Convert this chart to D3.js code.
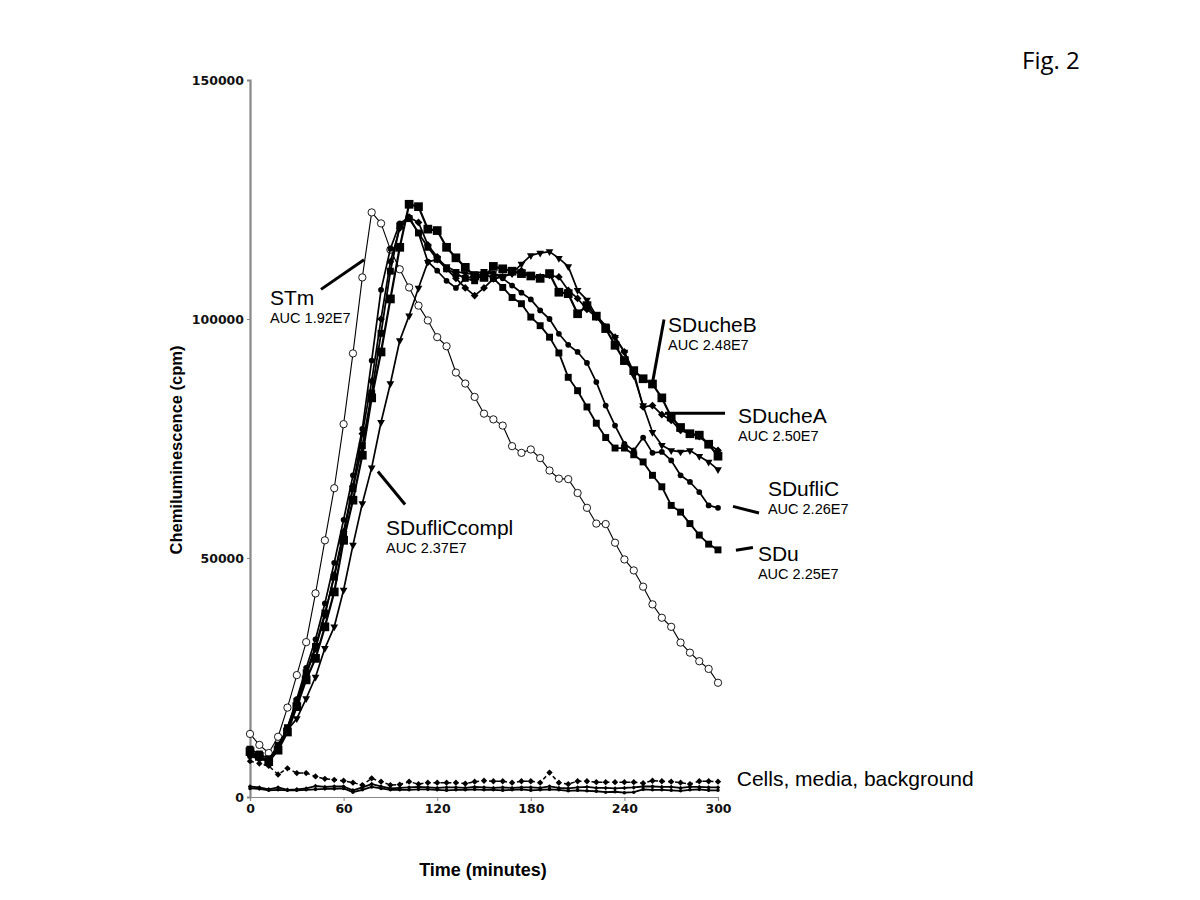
<!DOCTYPE html>
<html>
<head>
<meta charset="utf-8">
<script src="https://cdnjs.cloudflare.com/ajax/libs/d3/7.8.5/d3.min.js"></script>
<style>
  body { margin: 0; background: #fff; }
  svg { display: block; }
</style>
</head>
<body>
<svg width="1200" height="900"></svg>
<script>
// sampling times (minutes)
var times = [0, 6, 12, 18, 24, 30, 36, 42, 48, 54, 60, 66, 72, 78, 84, 90, 96, 102, 108, 114,
             120, 126, 132, 138, 144, 150, 156, 162, 168, 174, 180, 186, 192, 198, 204, 210, 216, 222, 228, 234,
             240, 246, 252, 258, 264, 270, 276, 282, 288, 294, 300];

var xTicks = [0, 60, 120, 180, 240, 300];
var yTicks = [0, 50000, 100000, 150000];

// chemiluminescence (cpm)
var stm = [13200, 10900, 9200, 12600, 18700, 25500, 32400, 42600, 53700, 64600, 78000, 92800, 108700, 122300, 120000, 114500, 110400, 106600, 102800, 99700,
           96200, 94300, 88800, 86500, 83700, 80200, 79000, 77700, 73400, 72000, 72700, 70900, 68300, 66600, 66500, 63600, 60500, 57200, 57100, 53200,
           49700, 47400, 44000, 40300, 37500, 35600, 32300, 30200, 28400, 26800, 23900];
var sducheB = [9500, 8500, 7400, 9800, 13600, 18900, 24500, 29000, 35600, 42900, 53700, 62100, 71500, 83500, 93100, 104200, 115000, 124000, 123500, 118800,
               118500, 115000, 112800, 110800, 109000, 108700, 111000, 110500, 110000, 109500, 109000, 108500, 109500, 105600, 105300, 101100, 102800, 100600, 98000, 94500,
               91300, 89200, 87500, 86400, 83500, 79500, 77300, 76000, 75700, 73800, 71300];
var sdu = [10000, 9000, 8000, 10500, 14500, 20000, 26000, 31500, 38500, 46000, 55000, 64500, 73500, 84500, 97000, 110000, 119500, 121000, 118000, 115000,
           112500, 110500, 109500, 108500, 108000, 109500, 108500, 106600, 104500, 103200, 100400, 98600, 96200, 92900, 87800, 85000, 81600, 78200, 75200, 73000,
           73000, 71600, 70100, 67300, 64900, 61000, 59600, 57200, 54800, 52900, 51700];
var sdufliC = [8500, 8000, 7500, 10000, 14500, 20500, 27000, 33000, 40500, 49000, 58000, 67300, 77000, 91300, 106100, 114700, 120000, 121300, 118000, 112000,
               110100, 108000, 106500, 108500, 109000, 109500, 109500, 108500, 107000, 105500, 104100, 101800, 100000, 96900, 94600, 93100, 90800, 86800, 81900, 77700,
               73900, 72500, 75200, 72000, 72200, 70400, 67300, 65900, 63800, 61000, 60500];
var sducheA = [9000, 8000, 7800, 10000, 14000, 19500, 25500, 31000, 38000, 46500, 55500, 65000, 76000, 87000, 100000, 112000, 119000, 121300, 120200, 115500,
               113000, 110500, 108500, 106500, 104900, 106500, 108400, 108800, 109500, 110100, 109100, 108800, 109100, 108800, 106000, 104300, 102000, 100400, 98300, 96200,
               93100, 88900, 81600, 81900, 80000, 78800, 76700, 76000, 75400, 73800, 72500];
var sdufliCcompl = [9000, 8500, 7400, 11100, 14000, 16400, 20600, 25100, 31100, 35600, 43300, 52700, 61400, 68900, 78400, 86500, 95500, 100700, 106500, 111900,
                    112500, 111000, 110000, 109500, 109500, 110000, 109500, 109000, 109500, 111500, 113300, 113800, 114100, 112700, 111000, 106000, 104000, 100700, 98600, 96200,
                    93100, 88200, 81900, 76300, 73600, 72500, 72200, 72500, 71300, 70100, 68500];
var cells = [7500, 7000, 6500, 4700, 6000, 5000, 5000, 4300, 3800, 3600, 3400, 3000, 2500, 3900, 3200, 2500, 2600, 3200, 2700, 3000,
             3000, 3000, 3000, 2800, 3200, 3400, 3300, 3300, 3000, 3300, 3300, 3000, 5100, 3000, 2700, 3300, 3300, 3100, 3100, 3100,
             3100, 3100, 2900, 3400, 3300, 3200, 3000, 2700, 3300, 3300, 3200];
var media = [2200, 2000, 1600, 2000, 1500, 1600, 1800, 2300, 2100, 2200, 2200, 1400, 2000, 2700, 2200, 1800, 1900, 2000, 2100, 2000,
             1900, 2000, 2000, 1900, 2100, 2000, 1900, 2000, 1900, 2000, 2000, 1900, 2200, 1900, 1800, 2000, 2100, 1900, 1900, 1800,
             1900, 2000, 2200, 2200, 2100, 2100, 1900, 2100, 2100, 2000, 2000];
var background = [1800, 1700, 1400, 1500, 1400, 1400, 1500, 1600, 1700, 1700, 1800, 1000, 1500, 2100, 1800, 1500, 1500, 1500, 1600, 1600,
                  1500, 1400, 1500, 1500, 1600, 1500, 1500, 1400, 1500, 1600, 1400, 1500, 1600, 1500, 1300, 1400, 1300, 1200, 1000, 1100,
                  900, 1000, 1600, 1500, 1500, 1400, 1300, 1500, 1600, 1400, 1400];

// labels: name, AUC, anchor (time, cpm) and pointer line in data units
var labelNames = ["STm", "SDufliCcompl", "SDucheB", "SDucheA", "SDufliC", "SDu"];
var labelAuc = ["AUC 1.92E7", "AUC 2.37E7", "AUC 2.48E7", "AUC 2.50E7", "AUC 2.26E7", "AUC 2.25E7"];
var labelAt = [[12.8, 103000], [87.2, 54800], [268, 97200], [312.8, 78200], [332, 62900], [325.6, 49300]];
var pointers = [[[45.5, 106200], [73.1, 112400]],
                [[82, 68100], [99.4, 61200]],
                [[265.4, 99900], [258.3, 87200]],
                [[266, 80300], [304.5, 80300]],
                [[309.6, 60800], [326.3, 59400]],
                [[311.5, 51600], [322.4, 52200]]];

var margin = {top: 80, right: 482, bottom: 103, left: 250};
var width = 1200, height = 900;

var svg = d3.select("svg");

var x = d3.scaleLinear().domain([0, 300]).range([margin.left, width - margin.right]);
var y = d3.scaleLinear().domain([0, 150000]).range([height - margin.bottom, margin.top]);

// axes
var xAxis = svg.append("g")
    .attr("transform", "translate(0," + (height - margin.bottom) + ")")
    .call(d3.axisBottom(x).tickValues(xTicks).tickSize(4).tickPadding(3).tickFormat(d3.format("d")));
xAxis.select(".domain").attr("stroke", "#888").attr("stroke-width", 1.2);
xAxis.selectAll(".tick line").attr("stroke", "#888");
xAxis.selectAll("text")
    .attr("font-family", "DejaVu Sans").attr("font-weight", "bold").attr("font-size", 12.5).attr("fill", "#111");

var yAxis = svg.append("g")
    .attr("transform", "translate(" + margin.left + ",0)")
    .call(d3.axisLeft(y).tickValues(yTicks).tickSize(3).tickPadding(3).tickFormat(d3.format("d")));
yAxis.select(".domain").attr("stroke", "#888").attr("stroke-width", 2.2);
yAxis.selectAll(".tick line").attr("stroke", "#888");
yAxis.selectAll("text")
    .attr("font-family", "DejaVu Sans").attr("font-weight", "bold").attr("font-size", 12.5).attr("fill", "#111");

svg.append("text")
    .attr("transform", "translate(182,450) rotate(-90)")
    .attr("text-anchor", "middle")
    .attr("font-family", "Liberation Sans").attr("font-weight", "bold").attr("font-size", 16.5)
    .text("Chemiluminescence (cpm)");

svg.append("text")
    .attr("x", 483).attr("y", 876)
    .attr("text-anchor", "middle")
    .attr("font-family", "Liberation Sans").attr("font-weight", "bold").attr("font-size", 18)
    .text("Time (minutes)");

svg.append("text")
    .attr("x", 1022).attr("y", 69)
    .attr("font-family", "Open Sans").attr("font-size", 24)
    .text("Fig. 2");

function drawSeries(values, opt) {
  var data = times.map(function(t, i) { return [t, values[i]]; });
  var line = d3.line().x(function(d) { return x(d[0]); }).y(function(d) { return y(d[1]); });
  svg.append("path")
      .datum(data)
      .attr("d", line)
      .attr("fill", "none")
      .attr("stroke", "#000")
      .attr("stroke-width", opt.width)
      .attr("stroke-dasharray", opt.dash || null)
      .attr("stroke-linejoin", "round");
  svg.append("g").selectAll("path")
      .data(data)
      .join("path")
      .attr("d", d3.symbol().type(opt.symbol).size(opt.size))
      .attr("transform", function(d) { return "translate(" + x(d[0]) + "," + y(d[1]) + ") rotate(" + (opt.rotate || 0) + ")"; })
      .attr("fill", opt.fill || "#000")
      .attr("stroke", "#000")
      .attr("stroke-width", opt.stroke || 0);
}

drawSeries(cells, {width: 1.5, dash: "4,3", symbol: d3.symbolSquare, size: 20, rotate: 45});
drawSeries(media, {width: 1.8, symbol: d3.symbolSquare, size: 10, rotate: 45});
drawSeries(background, {width: 1.8, symbol: d3.symbolCircle, size: 10});
drawSeries(stm, {width: 1.1, symbol: d3.symbolCircle, size: 42, fill: "#fff", stroke: 0.9});
drawSeries(sdufliCcompl, {width: 1.7, symbol: d3.symbolTriangle, size: 26, rotate: 180});
drawSeries(sducheA, {width: 1.7, symbol: d3.symbolSquare, size: 30, rotate: 45});
drawSeries(sdufliC, {width: 1.7, symbol: d3.symbolCircle, size: 26});
drawSeries(sdu, {width: 1.8, symbol: d3.symbolSquare, size: 48});
drawSeries(sducheB, {width: 2.2, symbol: d3.symbolSquare, size: 76});

// series labels with pointers
labelNames.forEach(function(name, i) {
  var p = pointers[i];
  svg.append("line")
      .attr("x1", x(p[0][0])).attr("y1", y(p[0][1]))
      .attr("x2", x(p[1][0])).attr("y2", y(p[1][1]))
      .attr("stroke", "#000").attr("stroke-width", 3);
  svg.append("text")
      .attr("x", x(labelAt[i][0])).attr("y", y(labelAt[i][1]))
      .attr("font-family", "Liberation Sans").attr("font-size", 21)
      .text(name);
  svg.append("text")
      .attr("x", x(labelAt[i][0])).attr("y", y(labelAt[i][1]) + 18)
      .attr("font-family", "Liberation Sans").attr("font-size", 14.5)
      .text(labelAuc[i]);
});

svg.append("text")
    .attr("x", x(312)).attr("y", y(2300))
    .attr("font-family", "Liberation Sans").attr("font-size", 21)
    .text("Cells, media, background");
</script>
</body>
</html>
